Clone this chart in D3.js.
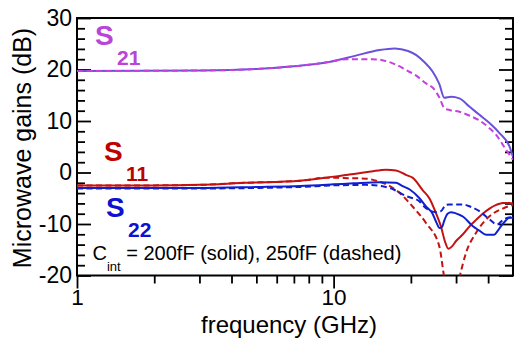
<!DOCTYPE html>
<html><head><meta charset="utf-8">
<script src="https://cdn.jsdelivr.net/npm/d3@7"></script>
<style>
html,body{margin:0;padding:0;background:#fff;}
svg{display:block;font-family:Arial,"Liberation Sans",sans-serif;}
</style></head>
<body><svg id="c" width="514" height="344"></svg>
<script>
// ---- data (frequency in GHz, gains in dB) ----
const fS21Solid = [1, 3, 5, 6.2, 8, 9.7, 12, 15.1, 17.3, 19.5, 21, 22.5, 24.3, 25.8, 27.0, 28.7, 30.9, 33.8, 37.0, 40.5, 44.2, 48.4, 50];
const s21Solid  = [19.7, 19.8, 20.1, 20.4, 20.9, 21.5, 22.6, 23.8, 24.1, 23.6, 22.8, 21.5, 19.6, 17.2, 14.5, 14.7, 14.4, 12.8, 11.2, 9.6, 7.7, 5.1, 3.0];
const fS21Dash  = [1, 3, 5, 6.2, 8, 9.7, 11.2, 12.5, 14.2, 15.5, 17.0, 18.1, 19.5, 21.0, 22.9, 24.3, 25.8, 27.0, 28.5, 30.9, 34, 37.0, 40.5, 43.0, 47, 50];
const s21Dash   = [19.7, 19.8, 20.1, 20.4, 20.9, 21.5, 22.0, 22.0, 22.0, 21.8, 21.2, 20.6, 19.7, 18.8, 17.3, 16.5, 14.6, 12.5, 12.1, 11.8, 11.0, 10.1, 8.6, 7.3, 4.4, 2.5];
const fS11Solid = [1, 2, 3, 4.5, 7.4, 10, 12, 14, 16, 17.5, 19.2, 20.3, 22.3, 23.6, 25.1, 26.2, 27.2, 28.0, 29, 30.0, 31.9, 33.8, 35.9, 38.1, 40.5, 43, 45.6, 48.4, 50];
const s11Solid  = [-2.5, -2.5, -2.4, -2.0, -1.6, -0.8, -0.3, 0.2, 0.55, 0.4, -0.5, -1.0, -3.5, -5.0, -8.0, -10.5, -13.5, -14.8, -14.3, -13.3, -12.0, -10.5, -9.2, -8.0, -7.0, -6.3, -5.9, -5.9, -6.0];
const fS11Dash  = [1, 2, 3, 4.5, 7.4, 9.5, 11.5, 13.4, 15.1, 16.5, 18.1, 20.3, 22.9, 25.8, 26.8, 27.6, 28.5, 29.8, 30.9, 32.8, 35.9, 40.5, 45.6, 50];
const s11Dash   = [-2.5, -2.5, -2.4, -2.0, -1.6, -1.0, -1.1, -1.2, -1.8, -2.6, -4.0, -6.6, -9.8, -14.3, -19.5, -24, -27, -24, -20.5, -15.6, -11.7, -8.5, -7.0, -6.3];
const fS22Solid = [1, 3, 5, 7.4, 10, 12, 15.1, 17.5, 18.5, 19.8, 21.6, 22.9, 24.3, 25.1, 25.9, 26.5, 27.0, 27.8, 28.7, 30.9, 32, 34.8, 37, 39.3, 42.2, 43.5, 44.9, 46.5, 48.4, 50];
const s22Solid  = [-3.0, -3.0, -2.8, -2.6, -2.3, -2.1, -1.9, -2.0, -2.6, -3.3, -5.0, -6.6, -8.0, -9.6, -10.8, -10.5, -9.3, -8.0, -7.7, -8.2, -8.6, -10.4, -11.3, -12.1, -12.1, -11.4, -10.4, -9.5, -8.8, -8.8];
const fS22Dash  = [1, 3, 5, 7.4, 10, 13.4, 16.5, 19.2, 21.6, 22.3, 25.1, 26.2, 27.4, 28.3, 31.9, 34, 37, 40.5, 43.3, 46, 49, 50];
const s22Dash   = [-3.1, -3.1, -3.0, -2.8, -2.5, -2.4, -3.0, -4.6, -5.6, -6.4, -7.7, -7.5, -6.3, -6.2, -6.2, -6.6, -7.5, -9.1, -10.1, -9.1, -8.7, -8.8];

const yMajor = [30, 20, 10, 0, -10, -20];
const yMinor = [28,26,24,22,18,16,14,12,8,6,4,2,-2,-4,-6,-8,-12,-14,-16,-18];
const yTickLabels = ["30", "20", "10", "0", "-10", "-20"];
const xMajor = [1, 10];
const xMinor = [2,3,4,5,6,7,8,9,20,30,40];
const xTickLabels = ["1", "10"];

// ---- layout ----
const L = 77, R = 513, T = 18, B = 275.5;
const svg = d3.select("#c");
const x = d3.scaleLog().domain([1, 50]).range([L, R]);
const y = d3.scaleLinear().domain([-20, 30]).range([B, T]);
const FONT = "Arial,'Liberation Sans',sans-serif";

svg.append("defs").append("clipPath").attr("id", "clip")
  .append("rect").attr("x", L).attr("y", T).attr("width", R - L).attr("height", B - T);

// axes
function styleAxis(g){ g.select(".domain").remove(); g.selectAll("line").attr("stroke","#000").attr("stroke-width",1.8); }
svg.append("g").attr("transform",`translate(${L},0)`)
  .call(d3.axisLeft(y).tickValues(yMajor).tickSize(-14).tickPadding(5).tickFormat((d,i)=>yTickLabels[i]))
  .call(styleAxis)
  .call(g=>g.selectAll("text").attr("font-size",23).attr("fill","#000").attr("font-family",FONT));
svg.append("g").attr("transform",`translate(${L},0)`)
  .call(d3.axisLeft(y).tickValues(yMinor).tickSize(-8).tickFormat("")).call(styleAxis);
svg.append("g").attr("transform",`translate(${R},0)`)
  .call(d3.axisRight(y).tickValues(yMajor).tickSize(-14).tickFormat("")).call(styleAxis);
svg.append("g").attr("transform",`translate(${R},0)`)
  .call(d3.axisRight(y).tickValues(yMinor).tickSize(-8).tickFormat("")).call(styleAxis);
svg.append("g").attr("transform",`translate(0,${B})`)
  .call(d3.axisBottom(x).tickValues(xMajor).tickSize(13).tickPadding(1).tickFormat((d,i)=>xTickLabels[i]))
  .call(styleAxis)
  .call(g=>g.selectAll("text").attr("font-size",22.5).attr("fill","#000").attr("font-family",FONT));
svg.append("g").attr("transform",`translate(0,${B})`)
  .call(d3.axisBottom(x).tickValues(xMinor).tickSize(8).tickFormat("")).call(styleAxis);

svg.append("rect").attr("x",L).attr("y",T).attr("width",R-L).attr("height",B-T)
  .attr("fill","none").attr("stroke","#000").attr("stroke-width",2);

// curves
const line = d3.line().x(d=>x(d[0])).y(d=>y(d[1])).curve(d3.curveMonotoneX);
const plot = svg.append("g").attr("clip-path","url(#clip)");
const series = [
  {f:fS21Solid, v:s21Solid, c:"#6b50dc", dash:null},
  {f:fS21Dash,  v:s21Dash,  c:"#c63fe0", dash:"6,3.5"},
  {f:fS11Solid, v:s11Solid, c:"#c41212", dash:null},
  {f:fS11Dash,  v:s11Dash,  c:"#c41212", dash:"6,3.5"},
  {f:fS22Solid, v:s22Solid, c:"#1020d0", dash:null},
  {f:fS22Dash,  v:s22Dash,  c:"#1020d0", dash:"6,3.5"}
];
series.forEach(s=>{
  plot.append("path").datum(s.f.map((f,i)=>[f,s.v[i]]))
    .attr("d",line).attr("fill","none").attr("stroke",s.c).attr("stroke-width",2)
    .attr("stroke-dasharray",s.dash);
});

// labels
function sLabel(xp, yp, sub, col){
  svg.append("text").attr("x",xp).attr("y",yp).attr("font-size",28).attr("font-weight","bold")
    .attr("fill",col).text("S");
  svg.append("text").attr("x",xp+22).attr("y",yp+20).attr("font-size",21).attr("font-weight","bold")
    .attr("fill",col).text(sub);
}
sLabel(95, 45, "21", "#b845d8");
sLabel(104, 161, "11", "#c00000");
sLabel(106, 217, "22", "#1010d0");

const ct = svg.append("text").attr("x",92.5).attr("y",260).attr("font-size",20).attr("fill","#000");
ct.append("tspan").text("C");
ct.append("tspan").attr("font-size",13).attr("dy",11).text("int");
ct.append("tspan").attr("dy",-11).text(" = 200fF (solid), 250fF (dashed)");

svg.append("text").attr("x",289).attr("y",333).attr("text-anchor","middle").attr("font-size",24)
  .attr("fill","#000").text("frequency (GHz)");
svg.append("text").attr("transform","translate(31,148) rotate(-90)").attr("text-anchor","middle")
  .attr("font-size",25).attr("fill","#000").text("Microwave gains (dB)");
</script></body></html>
